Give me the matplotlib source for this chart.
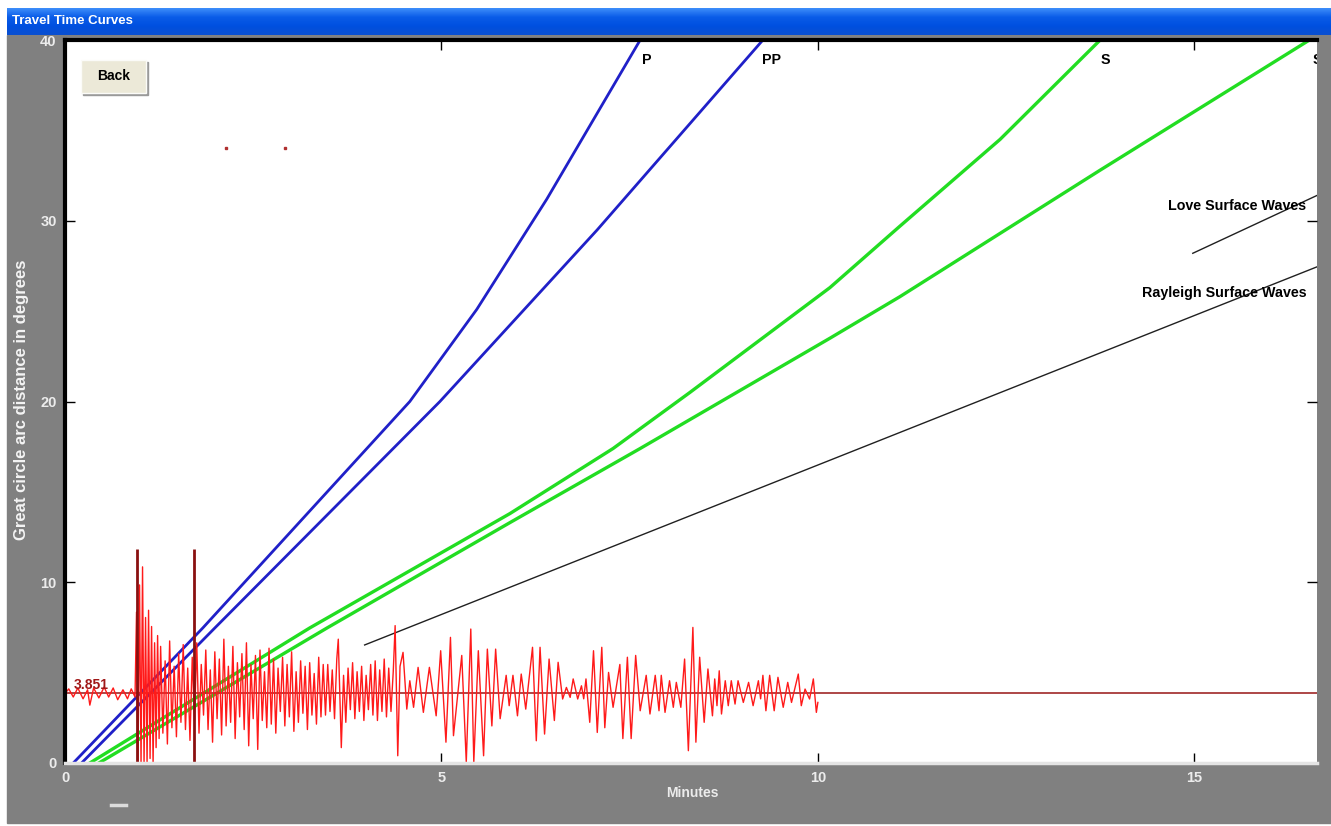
import numpy as np
import matplotlib
matplotlib.use("Agg")
import matplotlib.pyplot as plt
from matplotlib.patches import Rectangle
from matplotlib.colors import LinearSegmentedColormap

# travel time curves, distance (degrees) vs time (minutes)
p_deg = [0, 7.47, 20, 25.1, 31.2, 40]
p_min = [0.11, 1.83, 4.58, 5.47, 6.40, 7.64]
pp_deg = [0, 7.47, 20, 29.5, 40]
pp_min = [0.22, 1.99, 4.98, 7.07, 9.27]
s_deg = [0, 7.47, 13.8, 17.4, 20.5, 26.3, 29.7, 34.5, 40]
s_min = [0.33, 3.25, 5.91, 7.28, 8.3, 10.16, 11.09, 12.42, 13.75]
ss_deg = [0, 7.47, 13.3, 17.4, 23.5, 25.8, 32.8, 40]
ss_min = [0.45, 3.48, 5.91, 7.64, 10.16, 11.09, 13.75, 16.53]
rayleigh_min = [3.98, 16.63]
rayleigh_deg = [6.53, 27.45]
love_min = [14.98, 16.63]
love_deg = [28.2, 31.4]

# seismogram trace: time (min), offset from baseline (degrees)
baseline = 3.851
marker_min = [0.956, 1.713]
marker_top = 11.85
trace_t = [
    0.00, 0.05, 0.11, 0.17, 0.24, 0.30, 0.33, 0.38, 0.45, 0.52, 0.58, 0.64, 0.70, 0.77, 0.83, 0.88, 0.93,
    0.95, 0.97, 0.99, 1.01, 1.03, 1.05, 1.07, 1.09, 1.11, 1.13, 1.15, 1.17, 1.19, 1.21, 1.23, 1.25,
    1.27, 1.30, 1.33, 1.36, 1.39, 1.42, 1.45, 1.48, 1.51, 1.54, 1.57, 1.60, 1.63, 1.66, 1.69, 1.72,
    1.75, 1.78, 1.81, 1.84, 1.87, 1.90, 1.93, 1.96, 1.99, 2.02, 2.05, 2.08, 2.11, 2.14, 2.17, 2.20,
    2.23, 2.26, 2.29, 2.32, 2.35, 2.38, 2.41, 2.44, 2.47, 2.50, 2.53, 2.56, 2.59, 2.62, 2.65, 2.68,
    2.71, 2.74, 2.77, 2.80, 2.83, 2.86, 2.89, 2.92, 2.95, 2.98, 3.01, 3.04, 3.07, 3.10, 3.13, 3.16,
    3.19, 3.22, 3.25, 3.28, 3.31, 3.34, 3.37, 3.40, 3.43, 3.46, 3.49, 3.52, 3.55, 3.58, 3.61, 3.63,
    3.67, 3.70, 3.73, 3.76, 3.79, 3.82, 3.85, 3.88, 3.91, 3.94, 3.97, 4.00, 4.03, 4.06, 4.09, 4.12,
    4.15, 4.18, 4.21, 4.24, 4.27, 4.30, 4.33, 4.36, 4.385, 4.42, 4.45,
    4.49, 4.54, 4.58, 4.63, 4.69, 4.76, 4.84, 4.93, 4.99, 5.06, 5.12, 5.16, 5.27, 5.33, 5.39, 5.43,
    5.49, 5.56, 5.61, 5.67, 5.72, 5.78, 5.86, 5.90, 5.95, 6.01, 6.06, 6.12, 6.21, 6.26, 6.31, 6.37,
    6.43, 6.50, 6.55, 6.61, 6.66, 6.71, 6.75, 6.81, 6.86, 6.89, 6.92, 6.97, 7.02, 7.07, 7.13, 7.17,
    7.22, 7.28, 7.37, 7.41, 7.47, 7.52, 7.58, 7.64, 7.72, 7.77, 7.84, 7.89, 7.92, 7.97, 8.03, 8.08,
    8.12, 8.18, 8.23, 8.28, 8.34, 8.38, 8.43, 8.49, 8.54, 8.60, 8.63, 8.66, 8.69, 8.72, 8.77, 8.81,
    8.85, 8.90, 8.94, 9.01, 9.08, 9.14, 9.21, 9.24, 9.27, 9.31, 9.36, 9.42, 9.47, 9.54, 9.60, 9.65,
    9.74, 9.78, 9.83, 9.89, 9.94, 9.98, 10.0,
]
trace_amp = [
    0.0, 0.25, -0.2, 0.3, -0.3, 0.2, -0.65, 0.3, -0.25, 0.35, -0.2, 0.3, -0.35, 0.2, -0.3, 0.25, -0.2,
    4.5, -3.9, 6.0, -3.9, 7.0, -3.9, 4.2, -3.9, 4.6, -3.6, 3.7, -3.9, 2.8, -3.0, 3.2, -2.5,
    2.6, -2.2, 1.8, -2.8, 2.9, -1.9, 1.5, -2.4, 2.2, -1.6, 2.7, -2.0, 1.4, -2.6, 2.0, -1.5,
    2.8, -2.2, 1.6, -1.2, 2.4, -2.0, 1.3, -2.7, 2.3, -1.4, 1.9, -2.3, 3.0, -1.8, 1.5, -1.6,
    2.6, -2.5, 1.7, -1.3, 2.2, -2.0, 2.8, -2.9, 1.6, -1.4, 2.1, -3.1, 2.4, -1.5, 1.2, -1.9,
    2.5, -1.7, 1.9, -2.2, 1.4, -1.0, 2.0, -1.8, 1.6, -1.3, 2.3, -2.1, 1.2, -1.6, 1.8, -1.1,
    1.5, -2.0, 1.7, -1.2, 1.1, -1.7, 2.0, -1.3, 1.6, -1.2, 1.6, -1.0, 1.3, -1.4, 1.9, 3.0,
    -3.0, 1.0, -1.6, 1.4, -0.9, 1.7, -1.4, 1.2, -1.0, 1.5, -1.5, 1.0, -0.9, 1.6, -1.2, 1.8,
    -1.5, 1.3, -1.0, 1.9, -1.3, 1.4, -1.0, 1.2, 3.75, -3.45, 1.5,
    2.27, -0.87, 0.70, -0.77, 1.44, -1.05, 1.44, -1.24, 2.36, -2.70, 3.10, -2.34, 2.10, -3.80, 3.56, -3.80,
    2.36, -3.45, 2.45, -1.80, 2.45, -1.40, 1.00, -0.68, 1.00, -1.24, 1.07, -0.87, 2.55, -2.62, 2.55, -2.25,
    1.90, -1.50, 1.72, -0.31, 0.33, -0.22, 0.80, -0.31, 0.42, -0.30, 0.80, -1.60, 2.36, -2.16, 2.55, -1.90,
    1.16, -0.77, 1.60, -2.50, 2.00, -2.50, 2.10, -0.96, 1.00, -1.14, 1.00, -0.96, 1.00, -1.05, 0.70, -0.77,
    0.61, -0.77, 1.90, -3.17, 3.65, -2.70, 2.00, -1.60, 1.35, -1.24, 0.80, -0.68, 1.25, -1.14, 0.70, -0.68,
    0.70, -0.59, 0.70, -0.50, 0.61, -0.68, 0.70, -0.30, 1.00, -0.96, 1.00, -0.96, 0.89, -0.77, 0.61, -0.50,
    1.07, -0.68, 0.24, -0.31, 0.80, -1.05, -0.50,
]

W, H = 1331, 826
fig = plt.figure(figsize=(W / 100, H / 100), dpi=100)
fig.patch.set_facecolor("white")

label_font = ["Liberation Sans", "DejaVu Sans"]

# window body and title bar
fig.patches.append(Rectangle((7 / W, 1 - 823 / H), (W - 7) / W, (823 - 35) / H,
                             transform=fig.transFigure, color="#808080", zorder=-10))
tb = fig.add_axes([7 / W, 1 - 35 / H, (W - 7) / W, 27 / H])
xp_blue = LinearSegmentedColormap.from_list("xp", ["#3d8dfa", "#0a5ce8", "#0050e0", "#0a4fd0"])
tb.imshow(np.linspace(0, 1, 40).reshape(-1, 1), aspect="auto", cmap=xp_blue, extent=[0, 1, 0, 1])
tb.axis("off")
fig.text(12 / W, 1 - 21 / H, "Travel Time Curves", color="white", fontsize=9.5,
         fontweight="bold", va="center", family=label_font)
fig.add_artist(plt.Line2D([111 / W, 126 / W], [1 - 805 / H] * 2, color="#dcdcdc", lw=2.5))

ax = fig.add_axes([65 / W, 1 - 763 / H, 1252 / W, 723 / H])
ax.set_xlim(0, 16.63)
ax.set_ylim(0, 40)

ax.plot(p_min, p_deg, color="#2020c8", lw=2)
ax.plot(pp_min, pp_deg, color="#2020c8", lw=2)
ax.plot(s_min, s_deg, color="#22dd22", lw=2.4)
ax.plot(ss_min, ss_deg, color="#22dd22", lw=2.4)
ax.plot(rayleigh_min, rayleigh_deg, color="#202020", lw=1)
ax.plot(love_min, love_deg, color="#202020", lw=1)

ax.axhline(baseline, color="#a02828", lw=1.2)
trace_y = baseline + np.array(trace_amp)
ax.plot(trace_t, trace_y, color="#ff1a1a", lw=1)
ax.vlines(marker_min, 0, marker_top, color="#8a1010", lw=2)
ax.plot([2.14, 2.92], [34.0, 34.0], "s", ms=1.6, color="#b03030")
ax.text(0.11, baseline + 0.05, "3.851", color="#a01818", fontsize=10, fontweight="bold",
        va="bottom", family=label_font)

lab = dict(fontsize=10.3, fontweight="bold", family=label_font, va="center", color="black")
ax.text(7.66, 38.9, "P", **lab)
ax.text(9.26, 38.9, "PP", **lab)
ax.text(13.76, 38.9, "S", **lab)
ax.text(16.57, 38.9, "SS", clip_on=True, **lab)
ax.text(16.49, 30.8, "Love Surface Waves", ha="right", **lab)
ax.text(16.49, 26.0, "Rayleigh Surface Waves", ha="right", **lab)

# Back button
bx, by, bw, bh = 16 / 1252, 1 - 53 / 723, 65 / 1252, 33 / 723
ax.add_patch(Rectangle((bx + 2 / 1252, by - 2 / 723), bw, bh, transform=ax.transAxes,
                       color="#9a9a9a", zorder=5))
ax.add_patch(Rectangle((bx, by), bw, bh, transform=ax.transAxes, facecolor="#ece9d8",
                       edgecolor="#fbfbf8", lw=1, zorder=6))
ax.text(bx + bw / 2, by + bh / 2, "Back", transform=ax.transAxes, ha="center", va="center",
        fontsize=10, fontweight="bold", family=label_font, zorder=7)

ax.set_xticks([0, 5, 10, 15])
ax.set_yticks([0, 10, 20, 30, 40])
ax.tick_params(direction="in", length=7, width=1, top=True, right=True,
               labelcolor="#ececec", labelsize=10.5, pad=6)
for t in ax.get_xticklabels() + ax.get_yticklabels():
    t.set_family(label_font)
    t.set_fontweight("bold")

for side in ("left", "top"):
    ax.spines[side].set_linewidth(3)
    ax.spines[side].set_color("black")
ax.spines["bottom"].set_color("#e4e4e4")
ax.spines["bottom"].set_linewidth(2.5)
ax.spines["right"].set_visible(False)

ax.set_xlabel("Minutes", color="#ececec", fontsize=10, fontweight="bold", family=label_font)
ax.set_ylabel("Great circle arc distance in degrees", color="#f4f4f4", fontsize=12,
              fontweight="bold", family=label_font)
ax.xaxis.set_label_coords(0.5008, -0.032)
ax.yaxis.set_label_coords(-0.0288, 0.502)

fig.savefig("out.png", dpi=100, facecolor=fig.get_facecolor())
